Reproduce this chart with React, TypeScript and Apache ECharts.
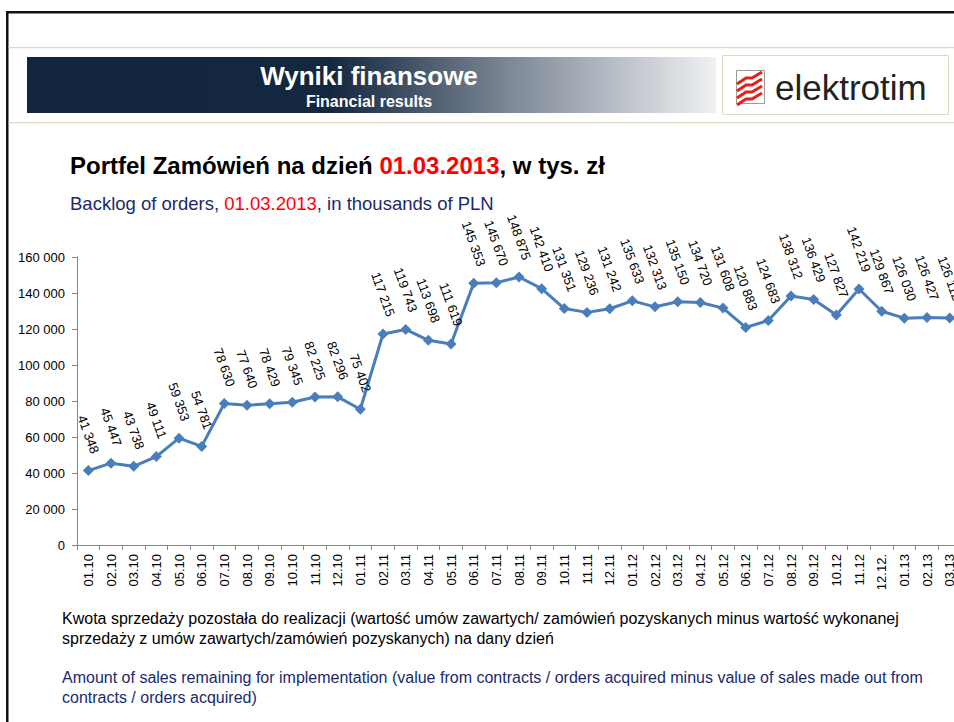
import React, { useEffect, useRef } from "react";
import * as echarts from "echarts";

const categories = [
  "01.10", "02.10", "03.10", "04.10", "05.10", "06.10", "07.10", "08.10", "09.10", "10.10", "11.10", "12.10",
  "01.11", "02.11", "03.11", "04.11", "05.11", "06.11", "07.11", "08.11", "09.11", "10.11", "11.11", "12.11",
  "01.12", "02.12", "03.12", "04.12", "05.12", "06.12", "07.12", "08.12", "09.12", "10.12", "11.12", "12.12.",
  "01.13", "02.13", "03.13",
];

const backlog = [
  41348, 45447, 43738, 49111, 59353, 54781, 78630, 77640, 78429, 79345, 82225, 82296,
  75402, 117215, 119743, 113698, 111619, 145353, 145670, 148875, 142410, 131351, 129236, 131242,
  135633, 132313, 135150, 134720, 131608, 120883, 124683, 138312, 136429, 127827, 142219, 129867,
  126030, 126427, 126112,
];

const yMin = 0;
const yMax = 160000;
const yStep = 20000;

const titlePl = ["Portfel Zamówień na dzień ", "01.03.2013", ", w tys. zł"];
const titleEn = ["Backlog of orders, ", "01.03.2013", ", in thousands of PLN"];
const notePl = [
  "Kwota sprzedaży pozostała do realizacji (wartość umów zawartych/ zamówień pozyskanych minus wartość wykonanej",
  "sprzedaży z umów zawartych/zamówień pozyskanych) na dany dzień",
];
const noteEn = [
  "Amount of sales remaining for implementation (value from contracts / orders acquired minus value of sales made out from",
  "contracts / orders acquired)",
];

const FONT = "'Liberation Sans', Arial, Helvetica, sans-serif";
const NAVY = "#1b2a6b";
const RED = "#ff0000";

const fmt = (v: number) => String(v).replace(/\B(?=(\d{3})+(?!\d))/g, " ");

function labelDistance(v: number) {
  const s = fmt(v);
  let w = 0;
  for (const ch of s) w += ch === " " ? 3.61 : 7.23;
  const ang = (70 * Math.PI) / 180;
  return 10 + (w * Math.sin(ang) + 12 * Math.cos(ang)) / 2;
}

export default function App() {
  const ref = useRef<HTMLDivElement>(null);

  useEffect(() => {
    if (!ref.current) return;
    const chart = echarts.init(ref.current, null, { renderer: "svg" });

    const stripe = (dx: number, dy: number) => ({
      type: "polyline",
      x: 737 + dx,
      y: 72 + dy,
      shape: { points: [[0, 12], [9, 6], [15, 6], [25, 0]] },
      style: { stroke: "#e2231a", lineWidth: 3.2, fill: null },
      z: 10,
    });

    chart.setOption({
      animation: false,
      backgroundColor: "#ffffff",
      grid: { left: 77, top: 257, width: 884, height: 288, containLabel: false },
      xAxis: {
        type: "category",
        data: categories,
        boundaryGap: true,
        axisLine: { show: true, lineStyle: { color: "#868686", width: 1 } },
        axisTick: { show: true, length: 5, alignWithLabel: false, lineStyle: { color: "#868686" } },
        axisLabel: {
          rotate: 90,
          interval: 0,
          margin: 9,
          fontFamily: FONT,
          fontSize: 13,
          color: "#000",
        },
        splitLine: { show: false },
      },
      yAxis: {
        type: "value",
        min: yMin,
        max: yMax,
        interval: yStep,
        axisLine: { show: true, lineStyle: { color: "#868686", width: 1 } },
        axisTick: { show: true, length: 5, lineStyle: { color: "#868686" } },
        axisLabel: {
          margin: 12,
          fontFamily: FONT,
          fontSize: 13,
          color: "#000",
          formatter: (v: number) => fmt(v),
        },
        splitLine: { show: false },
      },
      series: [
        {
          type: "line",
          data: backlog.map((v) => ({
            value: v,
            label: { distance: labelDistance(v) },
          })),
          symbol: "diamond",
          symbolSize: 11,
          lineStyle: { color: "#4a7ebb", width: 3 },
          itemStyle: { color: "#4a7ebb" },
          label: {
            show: true,
            position: "top",
            rotate: -70,
            align: "center",
            verticalAlign: "middle",
            fontFamily: FONT,
            fontSize: 13,
            color: "#000",
            formatter: (p: any) => fmt(p.value),
          },
          z: 3,
        },
      ],
      graphic: [
        { type: "rect", shape: { x: 6, y: 11, width: 2.5, height: 711 }, style: { fill: "#111" }, z: 20 },
        { type: "rect", shape: { x: 6, y: 11, width: 964, height: 2.5 }, style: { fill: "#111" }, z: 20 },
        { type: "rect", shape: { x: 8.5, y: 47, width: 962, height: 1.2 }, style: { fill: "#ddd9c3" }, z: 20 },
        { type: "rect", shape: { x: 8.5, y: 122, width: 962, height: 1.2 }, style: { fill: "#ddd9c3" }, z: 20 },
        {
          type: "rect",
          shape: { x: 27, y: 57, width: 689, height: 56 },
          style: {
            fill: new echarts.graphic.LinearGradient(0, 0, 1, 0, [
              { offset: 0, color: "#12263f" },
              { offset: 0.44, color: "#13273f" },
              { offset: 0.7, color: "#7d8896" },
              { offset: 1, color: "#f0f1f3" },
            ]),
          },
          z: 10,
        },
        {
          type: "text",
          x: 369,
          y: 76,
          style: {
            text: "Wyniki finansowe",
            fill: "#ffffff",
            font: `bold 26px ${FONT}`,
            align: "center",
            verticalAlign: "middle",
          },
          z: 11,
        },
        {
          type: "text",
          x: 369,
          y: 101,
          style: {
            text: "Financial results",
            fill: "#ffffff",
            font: `bold 16px ${FONT}`,
            align: "center",
            verticalAlign: "middle",
          },
          z: 11,
        },
        {
          type: "rect",
          shape: { x: 722.5, y: 55.5, width: 226, height: 59 },
          style: { fill: "#ffffff", stroke: "#ddd9c3", lineWidth: 1 },
          z: 10,
        },
        {
          type: "rect",
          shape: { x: 736.5, y: 70.5, width: 28, height: 33 },
          style: { fill: "#ffffff", stroke: "#9a9a9a", lineWidth: 1 },
          z: 10,
        },
        stripe(0, 0),
        stripe(0, 7),
        stripe(0, 14),
        stripe(0, 21),
        {
          type: "text",
          x: 775,
          y: 87,
          style: {
            text: "elektrotim",
            fill: "#222222",
            font: `35px ${FONT}`,
            align: "left",
            verticalAlign: "middle",
          },
          z: 11,
        },
        {
          type: "text",
          x: 70,
          y: 165,
          style: {
            text: `{a|${titlePl[0]}}{b|${titlePl[1]}}{a|${titlePl[2]}}`,
            align: "left",
            verticalAlign: "middle",
            rich: {
              a: { font: `bold 24px ${FONT}`, fill: "#000000" },
              b: { font: `bold 24px ${FONT}`, fill: RED },
            },
          },
          z: 11,
        },
        {
          type: "text",
          x: 70,
          y: 203,
          style: {
            text: `{a|${titleEn[0]}}{b|${titleEn[1]}}{a|${titleEn[2]}}`,
            align: "left",
            verticalAlign: "middle",
            rich: {
              a: { font: `18.5px ${FONT}`, fill: NAVY },
              b: { font: `18.5px ${FONT}`, fill: RED },
            },
          },
          z: 11,
        },
        ...notePl.map((t, i) => ({
          type: "text",
          x: 62,
          y: 618 + i * 20,
          style: { text: t, fill: "#000000", font: `16px ${FONT}`, align: "left", verticalAlign: "middle" },
          z: 11,
        })),
        ...noteEn.map((t, i) => ({
          type: "text",
          x: 62,
          y: 677 + i * 20,
          style: { text: t, fill: NAVY, font: `16px ${FONT}`, align: "left", verticalAlign: "middle" },
          z: 11,
        })),
      ],
    });

    return () => chart.dispose();
  }, []);

  return (
    <div style={{ position: "absolute", left: 0, top: 0, width: 954, height: 722, overflow: "hidden" }}>
      <div ref={ref} style={{ position: "absolute", left: 0, top: 0, width: 970, height: 722 }} />
    </div>
  );
}
